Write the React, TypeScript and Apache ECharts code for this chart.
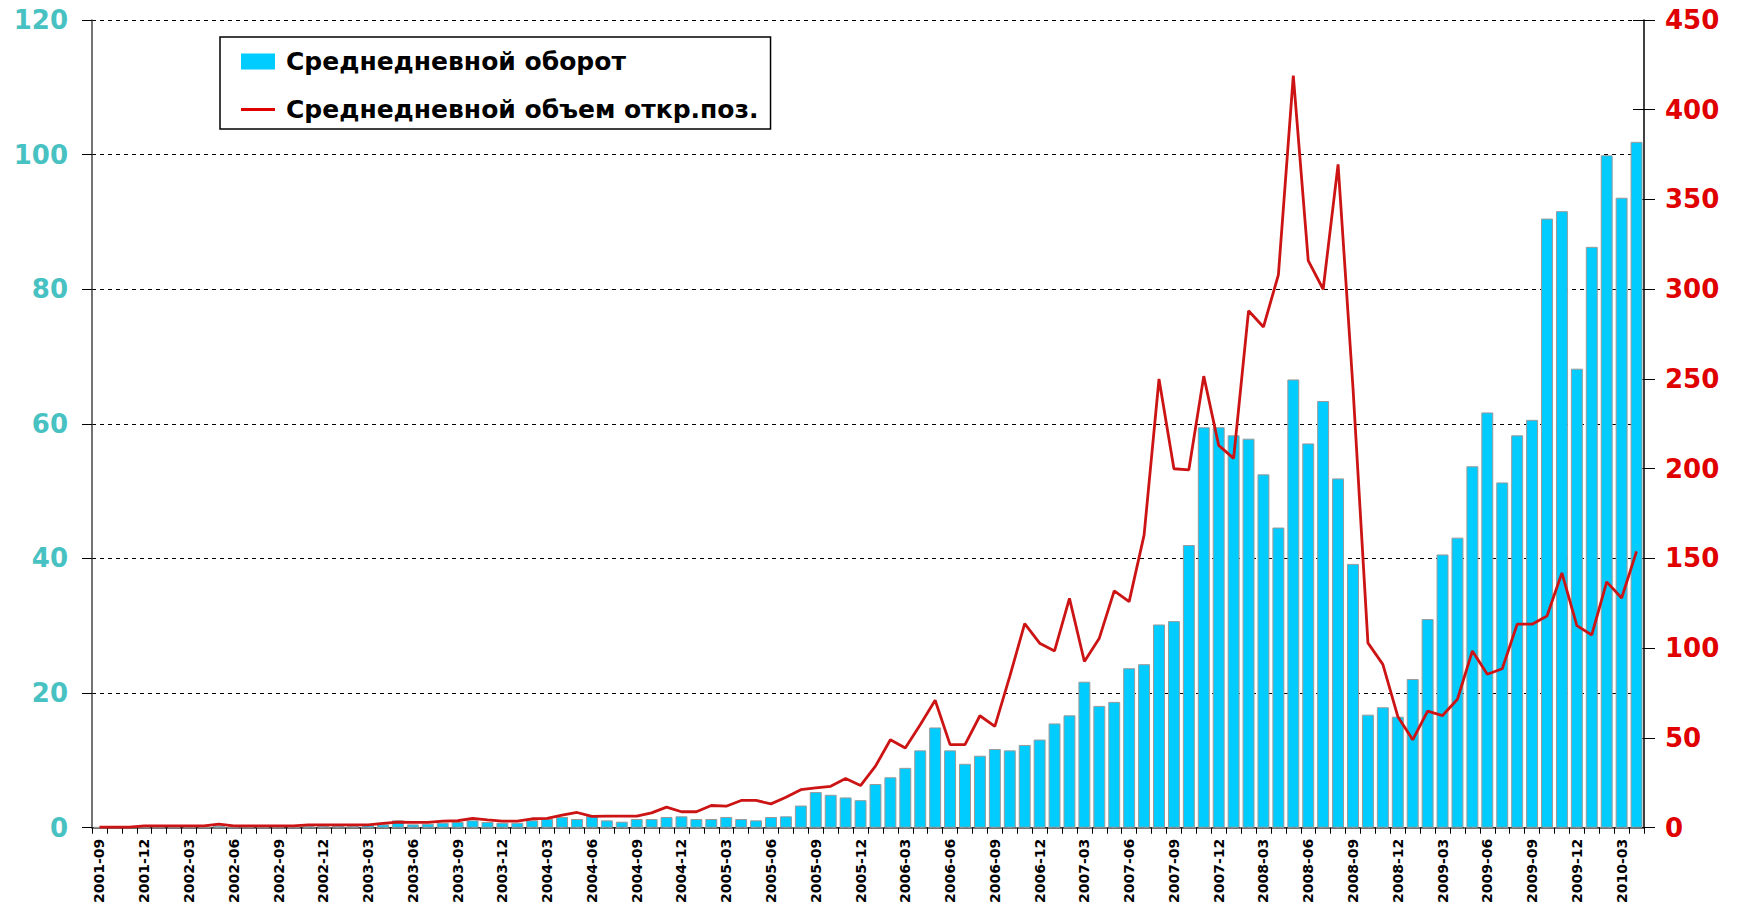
import React, { useEffect, useRef } from "react";
import * as echarts from "echarts";

const categories: string[] = [
  "2001-09", "2001-10", "2001-11", "2001-12",
  "2002-01", "2002-02", "2002-03", "2002-04", "2002-05", "2002-06", "2002-07", "2002-08", "2002-09", "2002-10", "2002-11", "2002-12",
  "2003-01", "2003-02", "2003-03", "2003-04", "2003-05", "2003-06", "2003-07", "2003-08", "2003-09", "2003-10", "2003-11", "2003-12",
  "2004-01", "2004-02", "2004-03", "2004-04", "2004-05", "2004-06", "2004-07", "2004-08", "2004-09", "2004-10", "2004-11", "2004-12",
  "2005-01", "2005-02", "2005-03", "2005-04", "2005-05", "2005-06", "2005-07", "2005-08", "2005-09", "2005-10", "2005-11", "2005-12",
  "2006-01", "2006-02", "2006-03", "2006-04", "2006-05", "2006-06", "2006-07", "2006-08", "2006-09", "2006-10", "2006-11", "2006-12",
  "2007-01", "2007-02", "2007-03", "2007-04", "2007-05", "2007-06", "2007-07", "2007-08", "2007-09", "2007-10", "2007-11", "2007-12",
  "2008-01", "2008-02", "2008-03", "2008-04", "2008-05", "2008-06", "2008-07", "2008-08", "2008-09", "2008-10", "2008-11", "2008-12",
  "2009-01", "2009-02", "2009-03", "2009-04", "2009-05", "2009-06", "2009-07", "2009-08", "2009-09", "2009-10", "2009-11", "2009-12",
  "2010-01", "2010-02", "2010-03", "2010-04",
];

// Среднедневной оборот (left axis)
const turnover: number[] = [
  0.1, 0.1, 0.1, 0.2,
  0.2, 0.2, 0.2, 0.2, 0.3, 0.2, 0.2, 0.2, 0.2, 0.2, 0.3, 0.3,
  0.3, 0.3, 0.4, 0.5, 1.1, 0.5, 0.6, 0.75, 0.85, 1.1, 0.85, 0.75,
  0.75, 1.1, 1.3, 1.6, 1.3, 1.7, 1.1, 0.9, 1.3, 1.3, 1.6, 1.7,
  1.3, 1.3, 1.6, 1.3, 1.1, 1.6, 1.7, 3.3, 5.3, 4.9, 4.5, 4.1,
  6.5, 7.5, 8.9, 11.5, 14.9, 11.5, 9.5, 10.7, 11.7, 11.5, 12.3, 13.1,
  15.5, 16.7, 21.7, 18.1, 18.7, 23.7, 24.3, 30.2, 30.7, 42.0, 59.5, 59.5,
  58.3, 57.8, 52.5, 44.6, 66.6, 57.1, 63.4, 51.9, 39.2, 16.8, 17.9, 16.5,
  22.1, 31.0, 40.6, 43.1, 53.7, 61.7, 51.3, 58.3, 60.6, 90.5, 91.6, 68.2,
  86.3, 99.9, 93.6, 101.9,
];

// Среднедневной объем откр.поз. (right axis)
const openInterest: number[] = [
  0.3, 0.3, 0.3, 1.0,
  1.0, 1.0, 1.0, 1.0, 2.0, 1.0, 1.0, 1.0, 1.0, 1.0, 1.6, 1.6,
  1.6, 1.6, 1.6, 2.4, 3.1, 3.0, 3.0, 3.7, 3.9, 5.2, 4.4, 3.7,
  3.7, 5.0, 5.2, 7.0, 8.5, 6.3, 6.5, 6.5, 6.5, 8.3, 11.5, 8.9,
  8.9, 12.4, 12.0, 15.2, 15.2, 13.3, 17.0, 21.2, 22.2, 23.1, 27.4, 23.5,
  34.3, 49.0, 44.4, 57.4, 71.0, 46.3, 46.3, 62.4, 56.5, 84.3, 113.7, 102.8,
  98.5, 127.8, 92.6, 105.6, 132.0, 126.0, 163.0, 250.0, 200.0, 199.4, 251.6, 213.0,
  205.8, 288.0, 279.0, 308.0, 419.0, 316.0, 300.0, 369.6, 245.0, 103.0, 91.0, 62.0,
  49.0, 65.0, 62.5, 71.6, 98.5, 85.5, 88.6, 113.4, 113.4, 118.0, 142.0, 112.6,
  107.4, 137.0, 128.0, 154.0,
];

const seriesNames = ["Среднедневной оборот", "Среднедневной объем откр.поз."];

const FONT = "'DejaVu Sans', Verdana, Arial, sans-serif";

export default function App() {
  const ref = useRef<HTMLDivElement>(null);

  useEffect(() => {
    if (!ref.current) return;
    const chart = echarts.init(ref.current, null, { renderer: "svg" });
    chart.setOption({
      animation: false,
      backgroundColor: "#ffffff",
      grid: { left: 92, right: 99, top: 20, bottom: 75, containLabel: false },
      legend: {
        orient: "vertical",
        left: 220,
        top: 37,
        padding: [12, 12, 7, 21],
        borderColor: "#000000",
        borderWidth: 1.5,
        backgroundColor: "#ffffff",
        itemWidth: 34,
        itemHeight: 16,
        itemGap: 23,
        symbolKeepAspect: true,
        textStyle: {
          fontFamily: FONT,
          fontWeight: "bold",
          fontSize: 25,
          color: "#000000",
          padding: [0, 0, 0, 6],
        },
        data: [
          { name: seriesNames[0], icon: "rect", itemStyle: { borderWidth: 0, color: "#00CCFF" } },
          {
            name: seriesNames[1],
            icon: "path://M0,0L34,0L34,3L0,3Z",
            itemStyle: { color: "#E00000", borderWidth: 0 },
          },
        ],
      },
      xAxis: {
        type: "category",
        data: categories,
        boundaryGap: true,
        axisLine: { show: true, lineStyle: { color: "#444444", width: 1.5 } },
        axisTick: { show: true, interval: 0, length: 6, lineStyle: { color: "#000000" } },
        axisLabel: {
          interval: 2,
          rotate: 90,
          margin: 11,
          fontFamily: FONT,
          fontWeight: "bold",
          fontSize: 14,
          color: "#000000",
        },
        splitLine: { show: false },
      },
      yAxis: [
        {
          type: "value",
          position: "left",
          min: 0,
          max: 120,
          interval: 20,
          axisLine: { show: true, lineStyle: { color: "#444444", width: 1.5 } },
          axisTick: { show: true, length: 10, lineStyle: { color: "#000000" } },
          axisLabel: {
            margin: 24,
            fontFamily: FONT,
            fontWeight: "bold",
            fontSize: 26,
            color: "#47C1C1",
          },
          splitLine: {
            show: true,
            lineStyle: { color: "#000000", type: [4, 4], width: 1 },
          },
        },
        {
          type: "value",
          position: "right",
          min: 0,
          max: 450,
          interval: 50,
          axisLine: { show: true, lineStyle: { color: "#000000", width: 1.5 } },
          axisTick: { show: true, length: 11, lineStyle: { color: "#000000" } },
          axisLabel: {
            margin: 21,
            fontFamily: FONT,
            fontWeight: "bold",
            fontSize: 26,
            color: "#E00000",
          },
          splitLine: { show: false },
        },
        {
          type: "value",
          position: "right",
          min: 0,
          max: 450,
          interval: 50,
          axisLine: { show: false },
          axisTick: { show: true, inside: true, length: 11, lineStyle: { color: "#000000" } },
          axisLabel: { show: false },
          splitLine: { show: false },
        },
      ],
      series: [
        {
          name: seriesNames[0],
          type: "bar",
          yAxisIndex: 0,
          data: turnover,
          barCategoryGap: "20%",
          itemStyle: { color: "#00CCFF", borderColor: "#9a9a9a", borderWidth: 1 },
        },
        {
          name: seriesNames[1],
          type: "line",
          yAxisIndex: 1,
          data: openInterest,
          symbol: "none",
          z: 5,
          lineStyle: { color: "#CC1414", width: 2.8 },
          itemStyle: { color: "#E00000" },
        },
      ],
    });
    return () => chart.dispose();
  }, []);

  return (
    <div
      ref={ref}
      style={{ position: "fixed", left: 0, top: 0, width: 1743, height: 906, background: "#ffffff" }}
    />
  );
}
